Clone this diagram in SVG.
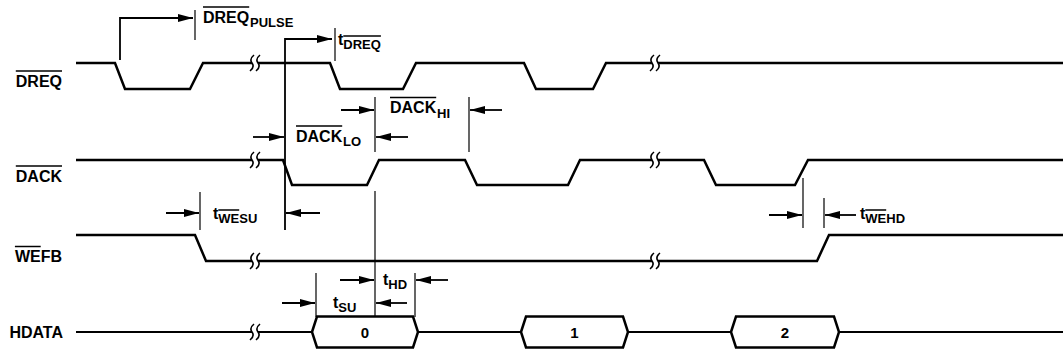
<svg xmlns="http://www.w3.org/2000/svg" width="1063" height="356" viewBox="0 0 1063 356">
<style>
  .wave{fill:none;stroke:#000;stroke-width:2.5;stroke-linejoin:miter}
  .bus{fill:#fff;stroke:#000;stroke-width:2.5;stroke-linejoin:miter}
  .dim{fill:none;stroke:#000;stroke-width:1.2}
  .arr{fill:none;stroke:#000;stroke-width:1.8;marker-end:url(#ah)}
  .ov{stroke:#000;stroke-width:1.5}
  .brk{fill:none;stroke:#000;stroke-width:1.6}
  text{font-family:"Liberation Sans",Arial,sans-serif;font-weight:bold;font-size:16px;fill:#000}
  .sub{font-size:13px}
  .mid{text-anchor:middle;font-size:15px}
  .lab{text-anchor:end}
</style>
<defs>
  <marker id="ah" markerUnits="userSpaceOnUse" markerWidth="15" markerHeight="9" refX="15" refY="4.5" orient="auto">
    <path d="M0,0.5 L15,4.5 L0,8.5 Z" fill="#000"/>
  </marker>
  <g id="brk">
    <rect x="-3" y="-3" width="6" height="6" fill="#fff"/>
    <path class="brk" d="M-1,-8 Q-6,-4 -3,0 T-5,8"/>
    <path class="brk" d="M5,-8 Q0,-4 3,0 T1,8"/>
  </g>
</defs>
<rect width="1063" height="356" fill="#fff"/>

<!-- signal labels -->
<g id="label-dreq"><text class="lab" x="62" y="87">DREQ</text><line class="ov" x1="15.8" y1="71" x2="62" y2="71"/></g>
<g id="label-dack"><text class="lab" x="62" y="182">DACK</text><line class="ov" x1="15.8" y1="166" x2="62" y2="166"/></g>
<g id="label-wefb"><text class="lab" x="62" y="262">WEFB</text><line class="ov" x1="14.9" y1="246.5" x2="40.7" y2="246.5"/></g>
<g id="label-hdata"><text class="lab" x="63" y="338">HDATA</text></g>

<!-- waveforms -->
<g id="sig-dreq">
  <path class="wave" d="M76,63 H115 L125,89 H190 L203,63 H330 L340,89 H403 L416,63 H524 L536,89 H593 L606,63 H1063"/>
  <use href="#brk" x="255" y="63"/><use href="#brk" x="655" y="63"/>
</g>
<g id="sig-dack">
  <path class="wave" d="M76,160 H283 L292,185 H367 L379,160 H465 L477,185 H568 L580,160 H704 L716,185 H795 L808,160 H1063"/>
  <use href="#brk" x="255" y="160"/><use href="#brk" x="655" y="160"/>
</g>
<g id="sig-wefb">
  <path class="wave" d="M76,235 H195 L206,261 H817 L829,235 H1063"/>
  <use href="#brk" x="255" y="261"/><use href="#brk" x="655" y="261"/>
</g>
<g id="sig-hdata">
  <path class="wave" style="stroke-width:2.2" d="M76,332 H312 M418,332 H521 M628,332 H731 M839,332 H1063"/>
  <use href="#brk" x="255" y="332"/>
</g>
<g id="bus-0"><path class="bus" d="M312,332 L317,316.5 H413 L418,332 L413,347.5 H317 Z"/><text class="mid" x="365" y="337.5">0</text></g>
<g id="bus-1"><path class="bus" d="M521,332 L526,316.5 H623 L628,332 L623,347.5 H526 Z"/><text class="mid" x="574.5" y="337.5">1</text></g>
<g id="bus-2"><path class="bus" d="M731,332 L736,316.5 H834 L839,332 L834,347.5 H736 Z"/><text class="mid" x="785" y="337.5">2</text></g>

<!-- timing connectors -->
<g id="connectors">
  <path class="arr" d="M120,60 V18 H193"/>
  <line class="dim" x1="195" y1="10" x2="195" y2="40"/>
  <path class="arr" d="M285,230 V39 H332"/>
  <line class="dim" x1="335" y1="28" x2="335" y2="61"/>
  <line class="arr" x1="253" y1="137" x2="284" y2="137"/>
  <line class="arr" x1="408" y1="137" x2="376" y2="137"/>
  <line class="dim" x1="375" y1="97" x2="375" y2="152"/>
  <line class="dim" x1="469" y1="97" x2="469" y2="152"/>
  <line class="arr" x1="341" y1="110" x2="374" y2="110"/>
  <line class="arr" x1="502" y1="110" x2="470" y2="110"/>
  <line class="dim" x1="375" y1="191" x2="375" y2="317"/>
  <line class="dim" x1="200" y1="192" x2="200" y2="230"/>
  <line class="arr" x1="166" y1="213" x2="199" y2="213"/>
  <line class="arr" x1="320" y1="213" x2="286" y2="213"/>
  <line class="dim" x1="803" y1="178" x2="803" y2="228"/>
  <line class="dim" x1="824" y1="198" x2="824" y2="228"/>
  <line class="arr" x1="769" y1="215" x2="802" y2="215"/>
  <line class="arr" x1="856" y1="215" x2="825" y2="215"/>
  <line class="dim" x1="316" y1="273" x2="316" y2="317"/>
  <line class="arr" x1="282" y1="303" x2="315" y2="303"/>
  <line class="arr" x1="407" y1="303" x2="376" y2="303"/>
  <line class="dim" x1="415" y1="273" x2="415" y2="317"/>
  <line class="arr" x1="340" y1="280" x2="374" y2="280"/>
  <line class="arr" x1="448" y1="280" x2="416" y2="280"/>
</g>

<!-- timing labels -->
<g id="lbl-dreq-pulse"><text x="203" y="23">DREQ<tspan class="sub" x="250" y="27">PULSE</tspan></text><line class="ov" x1="203" y1="7" x2="249.2" y2="7"/></g>
<g id="lbl-t-dreq"><text x="338" y="45">t<tspan class="sub" dy="4">DREQ</tspan></text><line class="ov" x1="343.3" y1="36" x2="380.9" y2="36"/></g>
<g id="lbl-dack-hi"><text x="390" y="113">DACK<tspan class="sub" x="437" y="118">HI</tspan></text><line class="ov" x1="390" y1="97.5" x2="436.2" y2="97.5"/></g>
<g id="lbl-dack-lo"><text x="296" y="142">DACK<tspan class="sub" x="343" y="146">LO</tspan></text><line class="ov" x1="296" y1="126" x2="342.2" y2="126"/></g>
<g id="lbl-t-wesu"><text x="213" y="219">t<tspan class="sub" dy="4">WESU</tspan></text><line class="ov" x1="218.3" y1="210" x2="239.2" y2="210"/></g>
<g id="lbl-t-wehd"><text x="860" y="219">t<tspan class="sub" dy="4">WEHD</tspan></text><line class="ov" x1="865.3" y1="210" x2="886.2" y2="210"/></g>
<g id="lbl-t-hd"><text x="383" y="285">t<tspan class="sub" dy="4">HD</tspan></text></g>
<g id="lbl-t-su"><text x="333" y="308">t<tspan class="sub" dy="4">SU</tspan></text></g>
</svg>
